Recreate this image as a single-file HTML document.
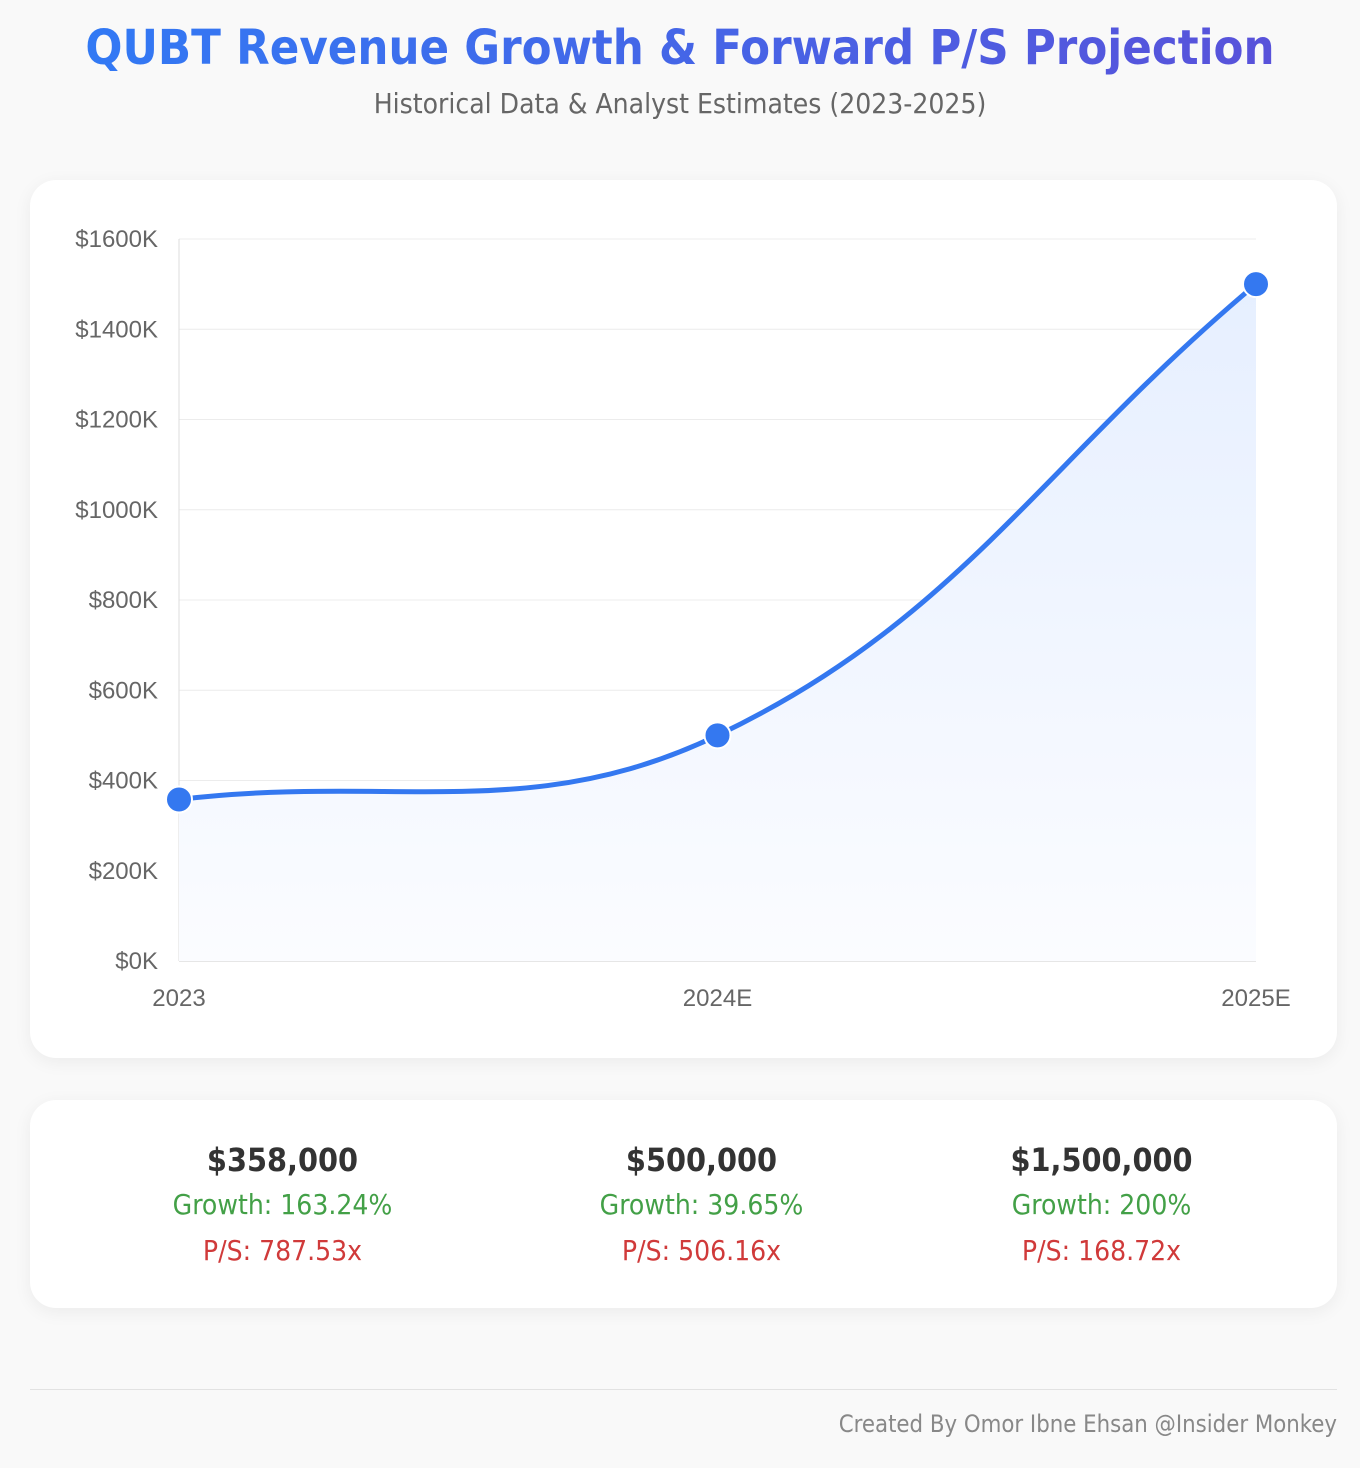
<!DOCTYPE html>
<html><head><meta charset="utf-8"><style>
body{margin:0;background:#f9f9f9;width:1360px;height:1468px;position:relative;font-family:"DejaVu Sans Condensed","DejaVu Sans",sans-serif;overflow:hidden}
h1{position:absolute;top:18px;left:0;width:1360px;text-align:center;margin:0;font-size:48.5px;font-weight:bold;line-height:60px;background:linear-gradient(90deg,#2f7cf6,#5b4fd8);-webkit-background-clip:text;background-clip:text;color:transparent}
.sub{position:absolute;top:87px;left:0;width:1360px;text-align:center;font-size:28px;color:#666;line-height:34px}
.card{position:absolute;left:30px;width:1307px;background:#fff;border-radius:26px;box-shadow:0 4px 18px rgba(0,0,0,0.06)}
.stat{position:absolute;top:0;width:435px;text-align:center}
.v{font-size:32px;font-weight:bold;color:#333;margin-top:40px;line-height:40px}
.g{font-size:28px;color:#43a047;line-height:46px;margin-top:2px}
.p{font-size:28px;color:#d03a3a;line-height:46px}
</style></head><body>
<h1>QUBT Revenue Growth &amp; Forward P/S Projection</h1>
<div class="sub">Historical Data &amp; Analyst Estimates (2023-2025)</div>
<div class="card" style="top:180px;height:878px"></div>
<svg id="chart" width="1360" height="1100" style="position:absolute;left:0;top:0" font-family="Liberation Sans, sans-serif"></svg>
<div class="card" style="top:1100px;height:208px">
 <div class="stat" style="left:35px"><div class="v">$358,000</div><div class="g">Growth: 163.24%</div><div class="p">P/S: 787.53x</div></div>
 <div class="stat" style="left:454px"><div class="v">$500,000</div><div class="g">Growth: 39.65%</div><div class="p">P/S: 506.16x</div></div>
 <div class="stat" style="left:854px"><div class="v">$1,500,000</div><div class="g">Growth: 200%</div><div class="p">P/S: 168.72x</div></div>
</div>
<div style="position:absolute;left:30px;top:1389px;width:1307px;height:1px;background:#e2e2e2"></div>
<div style="position:absolute;right:23px;top:1410px;font-size:23.7px;color:#888">Created By Omor Ibne Ehsan @Insider Monkey</div>
<script>
const categories=["2023","2024E","2025E"];
const revenue=[358000,500000,1500000];
const yTicks=[0,200000,400000,600000,800000,1000000,1200000,1400000,1600000];
const svg=document.getElementById('chart');const NS='http://www.w3.org/2000/svg';
const L=179,R=1256,T=239,B=961,YMAX=1600000;
const xs=i=>L+(R-L)*i/(categories.length-1);
const ys=v=>B-(B-T)*v/YMAX;
function mk(t,a,p){const e=document.createElementNS(NS,t);for(const k in a)e.setAttribute(k,a[k]);(p||svg).appendChild(e);return e;}
yTicks.forEach(v=>{
 const l=mk('line',{x1:L,x2:R,y1:ys(v),y2:ys(v),stroke:v===0?'#ccc':'#ececec','stroke-width':1});
 
 
 const t=mk('text',{x:158,y:ys(v)+8,'text-anchor':'end','font-size':24,fill:'#666'});
 t.textContent='$'+(v/1000)+'K';
 
 
});
const ax=mk('line',{x1:L,x2:L,y1:T,y2:B,stroke:'#ddd'});


categories.forEach((c,i)=>{
 const t=mk('text',{x:xs(i),y:1006,'text-anchor':'middle','font-size':24,fill:'#666'});
 t.textContent=c;
 
 
});
const pts=revenue.map((v,i)=>({x:xs(i),y:ys(v)}));
const tension=0.4;
const cps=pts.map((p,i)=>{const pr=pts[i-1]||p,nx=pts[i+1]||p;
 const d01=Math.hypot(p.x-pr.x,p.y-pr.y),d12=Math.hypot(nx.x-p.x,nx.y-p.y);
 let fa=d01/(d01+d12)||0,fb=d12/(d01+d12)||0;fa*=tension;fb*=tension;
 return {px:p.x-fa*(nx.x-pr.x),py:p.y-fa*(nx.y-pr.y),nx:p.x+fb*(nx.x-pr.x),ny:p.y+fb*(nx.y-pr.y)};});
let d='M'+pts[0].x+','+pts[0].y;
for(let i=1;i<pts.length;i++)d+=` C${cps[i-1].nx},${cps[i-1].ny} ${cps[i].px},${cps[i].py} ${pts[i].x},${pts[i].y}`;
const defs=mk('defs',{});const g=mk('linearGradient',{id:'fg',x1:0,y1:0,x2:0,y2:1},defs);
mk('stop',{offset:0,'stop-color':'#e6efff'},g);mk('stop',{offset:1,'stop-color':'#fbfcff'},g);
const area=mk('path',{d:d+` L${pts[pts.length-1].x},${B} L${pts[0].x},${B} Z`,fill:'url(#fg)'});


const line=mk('path',{d:d,fill:'none',stroke:'#3478f0','stroke-width':5});


pts.forEach(p=>{const c=mk('circle',{cx:p.x,cy:p.y,r:13,fill:'#3478f0',stroke:'#fff','stroke-width':2});
 
 });
</script>
</body></html>
